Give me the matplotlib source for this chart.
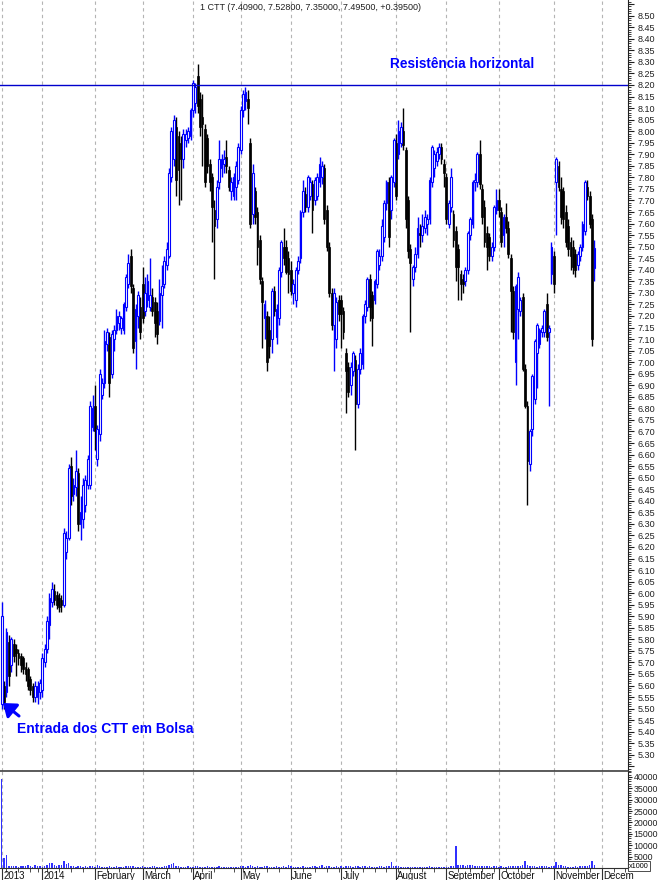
import numpy as np
import pandas as pd
import matplotlib
matplotlib.use("Agg")
import matplotlib.pyplot as plt
from matplotlib.lines import Line2D
from matplotlib.patches import FancyArrowPatch
from matplotlib.transforms import Bbox, blended_transform_factory
from matplotlib.ticker import FixedLocator, MultipleLocator

plt.rcParams['font.family'] = ['Liberation Sans', 'DejaVu Sans']

# ---------------- data: daily (open, high, low, close) per month ----------------
dec13 = [(5.52,5.96,5.50,5.90),(5.60,5.62,5.50,5.53),(5.57,5.85,5.55,5.83),(5.79,5.82,5.60,5.64),
         (5.69,5.81,5.66,5.80),(5.78,5.80,5.70,5.73),(5.76,5.78,5.64,5.74),(5.74,5.76,5.69,5.72),
         (5.73,5.74,5.66,5.69),(5.72,5.73,5.65,5.67),(5.68,5.70,5.62,5.65),(5.67,5.68,5.58,5.60),
         (5.63,5.64,5.56,5.58),(5.60,5.61,5.53,5.55),(5.55,5.62,5.53,5.60),(5.55,5.62,5.52,5.60),
         (5.57,5.63,5.54,5.61)]
jan14 = [(5.58,5.74,5.55,5.72),(5.70,5.78,5.68,5.76),(5.76,5.90,5.74,5.88),(5.86,6.00,5.80,5.98),
         (5.96,6.05,5.94,6.02),(6.01,6.04,5.95,5.97),(5.99,6.01,5.93,5.95),(5.98,6.00,5.92,5.94),
         (5.97,5.99,5.92,5.95),(5.95,6.28,5.94,6.26),(6.18,6.27,6.15,6.24),(6.24,6.56,6.23,6.54),
         (6.55,6.59,6.38,6.42),(6.43,6.50,6.40,6.47),(6.46,6.62,6.42,6.53),(6.52,6.54,6.27,6.30),
         (6.30,6.42,6.23,6.35),(6.32,6.50,6.28,6.47),(6.38,6.51,6.35,6.49),(6.47,6.60,6.45,6.58),
         (6.47,6.83,6.45,6.81),(6.72,6.86,6.70,6.80)]
feb14 = [(6.81,6.90,6.62,6.70),(6.58,6.73,6.55,6.71),(6.69,6.97,6.66,6.95),(6.86,6.93,6.84,6.91),
         (6.91,7.14,6.89,7.09),(7.08,7.15,7.05,7.13),(7.11,7.13,6.85,6.91),(6.95,7.14,6.93,7.12),
         (7.10,7.16,7.05,7.14),(7.14,7.23,7.12,7.20),(7.17,7.22,7.14,7.20),(7.15,7.20,7.12,7.19),
         (7.14,7.26,7.12,7.25),(7.24,7.38,7.22,7.37),(7.34,7.47,7.32,7.43),(7.46,7.49,7.30,7.33),
         (7.32,7.34,7.04,7.06),(7.09,7.25,6.97,7.23),(7.20,7.31,7.15,7.29),(7.24,7.28,7.10,7.13)]
mar14 = [(7.34,7.41,7.17,7.19),(7.22,7.37,7.20,7.30),(7.27,7.38,7.24,7.35),(7.24,7.45,7.22,7.29),
         (7.28,7.32,7.20,7.22),(7.26,7.28,7.11,7.17),(7.22,7.26,7.08,7.12),(7.18,7.36,7.16,7.30),
         (7.29,7.42,7.15,7.33),(7.34,7.46,7.32,7.44),(7.42,7.52,7.40,7.49),(7.46,7.84,7.45,7.82),
         (7.80,8.02,7.78,8.00),(7.88,8.07,7.85,8.05),(8.02,8.06,7.72,7.79),(7.98,8.00,7.68,7.83),
         (7.95,7.98,7.70,7.88),(7.88,8.01,7.84,7.99),(7.96,8.01,7.93,7.99),(7.97,8.02,7.95,8.00),
         (7.98,8.10,7.96,8.09)]
apr14 = [(8.09,8.22,8.06,8.21),(8.12,8.21,8.08,8.19),(8.24,8.29,8.08,8.11),(8.14,8.17,7.98,8.02),
         (8.06,8.16,7.85,8.03),(8.01,8.03,7.76,7.78),(7.97,7.99,7.82,7.85),(7.86,7.88,7.74,7.78),
         (7.80,7.82,7.52,7.67),(7.66,7.70,7.36,7.59),(7.62,7.79,7.58,7.76),(7.78,7.96,7.75,7.88),
         (7.84,7.90,7.80,7.88),(7.86,7.92,7.82,7.88),(7.89,7.96,7.82,7.85),(7.83,7.85,7.74,7.76),
         (7.74,7.80,7.70,7.78),(7.72,7.82,7.70,7.80),(7.76,7.87,7.70,7.85),(7.79,7.95,7.77,7.93)]
may14 = [(7.92,8.11,7.90,8.09),(8.09,8.18,8.06,8.16),(8.13,8.19,8.09,8.17),(8.14,8.18,8.03,8.10),
         (7.95,7.97,7.58,7.60),(7.64,7.86,7.60,7.82),(7.74,7.76,7.60,7.63),(7.65,7.67,7.42,7.50),
         (7.53,7.55,7.34,7.36),(7.35,7.37,7.06,7.26),(7.19,7.27,7.10,7.25),(7.20,7.22,6.96,7.00),
         (7.14,7.20,7.02,7.07),(7.10,7.32,7.04,7.31),(7.31,7.33,7.20,7.22),(7.11,7.25,7.08,7.23),
         (7.19,7.41,7.16,7.40),(7.39,7.53,7.37,7.52),(7.50,7.58,7.42,7.45),(7.50,7.53,7.38,7.39),
         (7.45,7.48,7.30,7.38)]
jun14 = [(7.40,7.44,7.29,7.31),(7.30,7.36,7.25,7.34),(7.27,7.41,7.24,7.40),(7.40,7.46,7.38,7.44),
         (7.45,7.66,7.43,7.65),(7.65,7.79,7.63,7.74),(7.73,7.76,7.65,7.67),(7.67,7.81,7.65,7.80),
         (7.72,7.80,7.70,7.78),(7.77,7.79,7.56,7.66),(7.70,7.80,7.68,7.79),(7.72,7.82,7.70,7.80),
         (7.78,7.89,7.76,7.86),(7.80,7.87,7.77,7.85),(7.84,7.86,7.60,7.62),(7.66,7.68,7.48,7.50),
         (7.50,7.52,7.28,7.30),(7.30,7.32,7.14,7.16),(7.16,7.32,6.96,7.30),(7.10,7.28,7.06,7.26),
         (7.27,7.29,7.18,7.21)]
jul14 = [(7.27,7.29,7.06,7.21),(7.22,7.24,7.10,7.13),(7.04,7.06,6.78,6.96),(6.98,7.00,6.85,6.87),
         (6.90,7.00,6.86,6.98),(6.96,7.05,6.94,7.04),(7.01,7.03,6.62,6.82),(6.82,6.99,6.80,6.97),
         (6.97,7.06,6.95,7.04),(6.99,7.21,6.97,7.20),(7.20,7.27,7.17,7.25),(7.24,7.37,7.22,7.36),
         (7.36,7.38,7.18,7.24),(7.29,7.31,7.07,7.19),(7.27,7.36,7.25,7.35),(7.34,7.49,7.32,7.48),
         (7.42,7.49,7.40,7.46),(7.46,7.62,7.44,7.59),(7.54,7.70,7.52,7.69),(7.69,7.79,7.66,7.78),
         (7.78,7.80,7.50,7.54),(7.66,7.81,7.62,7.80),(7.78,7.97,7.76,7.96)]
aug14 = [(7.95,7.99,7.70,7.72),(7.90,8.05,7.88,8.00),(7.95,8.04,7.93,8.02),(8.00,8.10,7.92,7.94),
         (7.92,7.93,7.58,7.62),(7.70,7.72,7.45,7.48),(7.49,7.51,7.13,7.43),(7.36,7.42,7.33,7.41),
         (7.41,7.50,7.39,7.47),(7.47,7.63,7.45,7.58),(7.56,7.60,7.50,7.55),(7.55,7.64,7.52,7.59),
         (7.58,7.66,7.56,7.63),(7.60,7.64,7.55,7.62),(7.62,7.80,7.60,7.79),(7.78,7.94,7.76,7.93),
         (7.84,7.92,7.80,7.90),(7.87,7.93,7.85,7.91),(7.90,7.95,7.88,7.93),(7.93,7.95,7.86,7.88),
         (7.86,7.88,7.76,7.82)]
sep14 = [(7.80,7.82,7.60,7.62),(7.60,7.70,7.58,7.69),(7.67,7.84,7.65,7.80),(7.64,7.66,7.50,7.53),
         (7.57,7.59,7.35,7.41),(7.49,7.51,7.27,7.41),(7.38,7.40,7.27,7.34),(7.36,7.38,7.30,7.34),
         (7.35,7.41,7.33,7.40),(7.40,7.57,7.38,7.56),(7.55,7.63,7.53,7.62),(7.60,7.79,7.58,7.78),
         (7.78,7.82,7.74,7.79),(7.78,7.91,7.76,7.90),(7.90,7.96,7.75,7.77),(7.75,7.77,7.60,7.63),
         (7.67,7.70,7.50,7.52),(7.56,7.59,7.40,7.50),(7.54,7.56,7.44,7.46),(7.46,7.52,7.44,7.50),
         (7.50,7.68,7.48,7.67),(7.66,7.75,7.64,7.70)]
oct14 = [(7.70,7.75,7.63,7.66),(7.65,7.67,7.50,7.52),(7.55,7.64,7.50,7.63),(7.63,7.69,7.56,7.58),
         (7.58,7.61,7.45,7.47),(7.45,7.47,7.13,7.31),(7.31,7.33,7.10,7.13),(7.00,7.34,6.90,7.33),
         (7.23,7.39,7.10,7.37),(7.22,7.28,7.20,7.27),(7.28,7.30,6.96,6.97),(6.97,6.99,6.80,6.81),
         (6.81,6.83,6.38,6.57),(6.56,6.71,6.53,6.70),(6.71,6.95,6.68,6.94),(6.84,7.10,6.82,7.09),
         (7.04,7.17,6.89,7.16),(7.08,7.15,7.06,7.14),(7.13,7.16,7.11,7.15),(7.13,7.23,7.11,7.22),
         (7.25,7.30,7.09,7.11),(7.13,7.16,6.81,7.15),(7.38,7.52,7.34,7.50)]
nov14 = [(7.46,7.48,7.30,7.34),(7.78,7.89,7.55,7.88),(7.85,7.87,7.74,7.76),(7.75,7.80,7.60,7.63),
         (7.74,7.76,7.58,7.62),(7.65,7.68,7.50,7.52),(7.59,7.62,7.46,7.49),(7.52,7.54,7.40,7.46),
         (7.50,7.53,7.38,7.41),(7.47,7.49,7.37,7.40),(7.42,7.48,7.40,7.47),(7.46,7.51,7.44,7.50),
         (7.50,7.61,7.48,7.60),(7.57,7.79,7.55,7.78),(7.76,7.79,7.70,7.72),(7.72,7.74,7.58,7.60),
         (7.62,7.64,7.07,7.10),(7.409,7.528,7.35,7.495)]

# daily volume (x1000)
vol_dec13 = [39000,4200,5500,1000,800,700,900,600,700,800,900,1200,700,600,1300,900,700]
vol_jan14 = [500,900,1500,2200,2400,1200,900,1200,1400,3000,1800,2000,800,700,600,800,900,600,700,500,1000,700]
vol_feb14 = [600,1100,700,600,500,600,700,500,600,700,600,500,600,700,800,1000,700,600,500,600]
vol_mar14 = [700,600,500,600,800,700,600,500,600,700,900,1200,1600,2000,900,700,600,500,600,700,600]
vol_apr14 = [600,700,800,600,500,600,700,500,600,500,600,700,500,600,500,400,500,600,500,600]
vol_may14 = [700,800,600,900,1200,800,600,700,500,600,700,800,600,500,600,700,500,600,700,600,1500]
vol_jun14 = [800,600,500,600,500,700,600,500,600,900,700,600,800,1500,600,700,800,600,500,700,600]
vol_jul14 = [700,600,800,900,700,600,800,700,600,700,800,600,700,600,500,600,700,800,600,700,900,2500,800]
vol_aug14 = [900,700,600,500,600,500,400,500,600,500,400,500,600,500,700,500,400,500,600,500,400]
vol_sep14 = [500,600,700,800,9800,1500,1300,1200,1000,1100,1500,1400,900,1000,800,700,900,800,700,600,800,700]
vol_oct14 = [600,700,500,600,700,800,900,700,1000,800,1200,3200,1500,900,800,700,600,700,800,900,700,600,800]
vol_nov14 = [1000,2800,1300,1200,800,700,600,500,600,700,600,800,700,900,800,1200,2900,1500]

month_labels = ["2013", "2014", "February", "March", "April", "May", "June",
                "July", "August", "September", "October", "November", "December"]
title_text = "1 CTT (7.40900, 7.52800, 7.35000, 7.49500, +0.39500)"
resistance_level = 8.20

# ---------------- assemble ----------------
ohlc = np.array(dec13 + jan14 + feb14 + mar14 + apr14 + may14 + jun14 + jul14 +
                aug14 + sep14 + oct14 + nov14)
volume = np.array(vol_dec13 + vol_jan14 + vol_feb14 + vol_mar14 + vol_apr14 + vol_may14 +
                  vol_jun14 + vol_jul14 + vol_aug14 + vol_sep14 + vol_oct14 + vol_nov14)
o, h, l, c = ohlc.T
n = len(o)
x = np.arange(n)

holidays = pd.to_datetime(['2013-12-25', '2013-12-26', '2014-01-01', '2014-04-18',
                           '2014-04-21', '2014-05-01', '2014-12-25', '2014-12-26'])
days = pd.bdate_range('2013-12-05', '2014-12-31')
days = days[~days.isin(holidays)]
month_id = days.year * 12 + days.month
month_starts = [0] + [i for i in range(1, len(days)) if month_id[i] != month_id[i - 1]]
month_starts = month_starts[:13]
mondays = [i for i in range(len(days)) if days[i].weekday() == 0]

W, H = 660, 880
fig = plt.figure(figsize=(6.6, 8.8), dpi=100)
ax = fig.add_axes([0, 109 / H, 628 / W, 771 / H])
axv = fig.add_axes([0, 12 / H, 628 / W, 97 / H], sharex=ax)

xlim = (-0.71, 262.05)
ax.set_xlim(*xlim)
ax.set_ylim(5.230, 8.568)
axv.set_ylim(0, 42600)

# gridlines
for ms in month_starts:
    for a in (ax, axv):
        a.axvline(ms, color='#b4b4b4', lw=0.8, dashes=(3, 3), zorder=0)

# candles
up = c >= o
ax.vlines(x[~up], l[~up], h[~up], colors='black', lw=1.0, zorder=2)
ax.vlines(x[up], l[up], h[up], colors='#0000ff', lw=1.0, zorder=2)
bot = np.minimum(o, c)
bh = np.maximum(np.abs(c - o), 0.006)
ax.bar(x[~up], bh[~up], bottom=bot[~up], width=0.75, color='black',
       edgecolor='black', lw=0.5, zorder=3)
ax.bar(x[up], bh[up], bottom=bot[up], width=0.75, facecolor='white',
       edgecolor='#0000ff', lw=0.8, zorder=3)

ax.axhline(resistance_level, color='#0000cc', lw=1.0, zorder=4)

# volume
axv.bar(x, volume, width=0.6, color='#3030ff', lw=0, zorder=2)

# axes styling
for a in (ax, axv):
    a.spines['left'].set_visible(False)
    a.spines['top'].set_visible(False)
    a.spines['right'].set_color('#202020')
    a.spines['bottom'].set_color('#303030')
    a.yaxis.tick_right()
    a.tick_params(axis='y', which='major', length=4, width=0.8, labelsize=6.5,
                  pad=3, colors='#202020')
    a.tick_params(axis='y', which='minor', length=2, width=0.6, colors='#202020')
axv.tick_params(axis='y', which='major', length=3, labelsize=6.3, pad=1)

pt = np.round(np.arange(5.25, 8.551, 0.05), 2)
ax.yaxis.set_major_locator(FixedLocator(pt))
ax.yaxis.set_minor_locator(MultipleLocator(0.01))
ax.set_yticklabels(['' if (v < 5.29 or v > 8.51) else f'{v:.2f}' for v in pt])
ax.tick_params(axis='x', which='both', bottom=False, labelbottom=False)

vt = list(range(5000, 40001, 5000))
axv.yaxis.set_major_locator(FixedLocator(vt))
axv.yaxis.set_minor_locator(MultipleLocator(1000))
axv.set_yticklabels([str(v) for v in vt])
axv.xaxis.set_major_locator(FixedLocator(month_starts))
axv.xaxis.set_minor_locator(FixedLocator(mondays))
axv.tick_params(axis='x', which='major', length=12, width=0.8, labelbottom=False,
                colors='#303030')
axv.tick_params(axis='x', which='minor', length=3, width=0.6, colors='#303030')
axv.set_xlim(*xlim)

# panel separator
fig.add_artist(Line2D([0, 628 / W], [109 / H, 109 / H], transform=fig.transFigure,
                      color='#404040', lw=1.2))

# month labels
tr = blended_transform_factory(axv.transData, axv.transAxes)
clip = Bbox.from_extents(0, 0, 634, 20)
for ms, lab in zip(month_starts, month_labels):
    t = axv.text(ms + 0.6, -0.085, lab, transform=tr, ha='left', va='center',
                 fontsize=7, color='#101010', clip_on=False)
    if lab == "December":
        t.set_clip_box(clip)
        t.set_clip_on(True)

fig.text(629 / W, 1 - 866 / H, "x1000", fontsize=5.2, ha='left', va='center',
         bbox=dict(boxstyle='square,pad=0.15', fc='white', ec='#303030', lw=0.6))

# texts and annotations
fig.text(310 / W, 1 - 7 / H, title_text, fontsize=6.5, ha='center', va='center',
         color='#202020')
fig.text(390 / W, 1 - 64 / H, "Resistência horizontal", fontsize=9.8, fontweight='bold',
         color='#0000ff', ha='left', va='center')
fig.text(17 / W, 1 - 729 / H, "Entrada dos CTT em Bolsa", fontsize=10, fontweight='bold',
         color='#0000ff', ha='left', va='center')
fig.add_artist(FancyArrowPatch(
    (19 / W, 1 - 716 / H), (3 / W, 1 - 703 / H), transform=fig.transFigure,
    arrowstyle='-|>,head_length=0.6,head_width=0.45', color='#0000ff', lw=2.2,
    mutation_scale=12, shrinkA=0, shrinkB=0))

fig.savefig('out.png', dpi=100)
